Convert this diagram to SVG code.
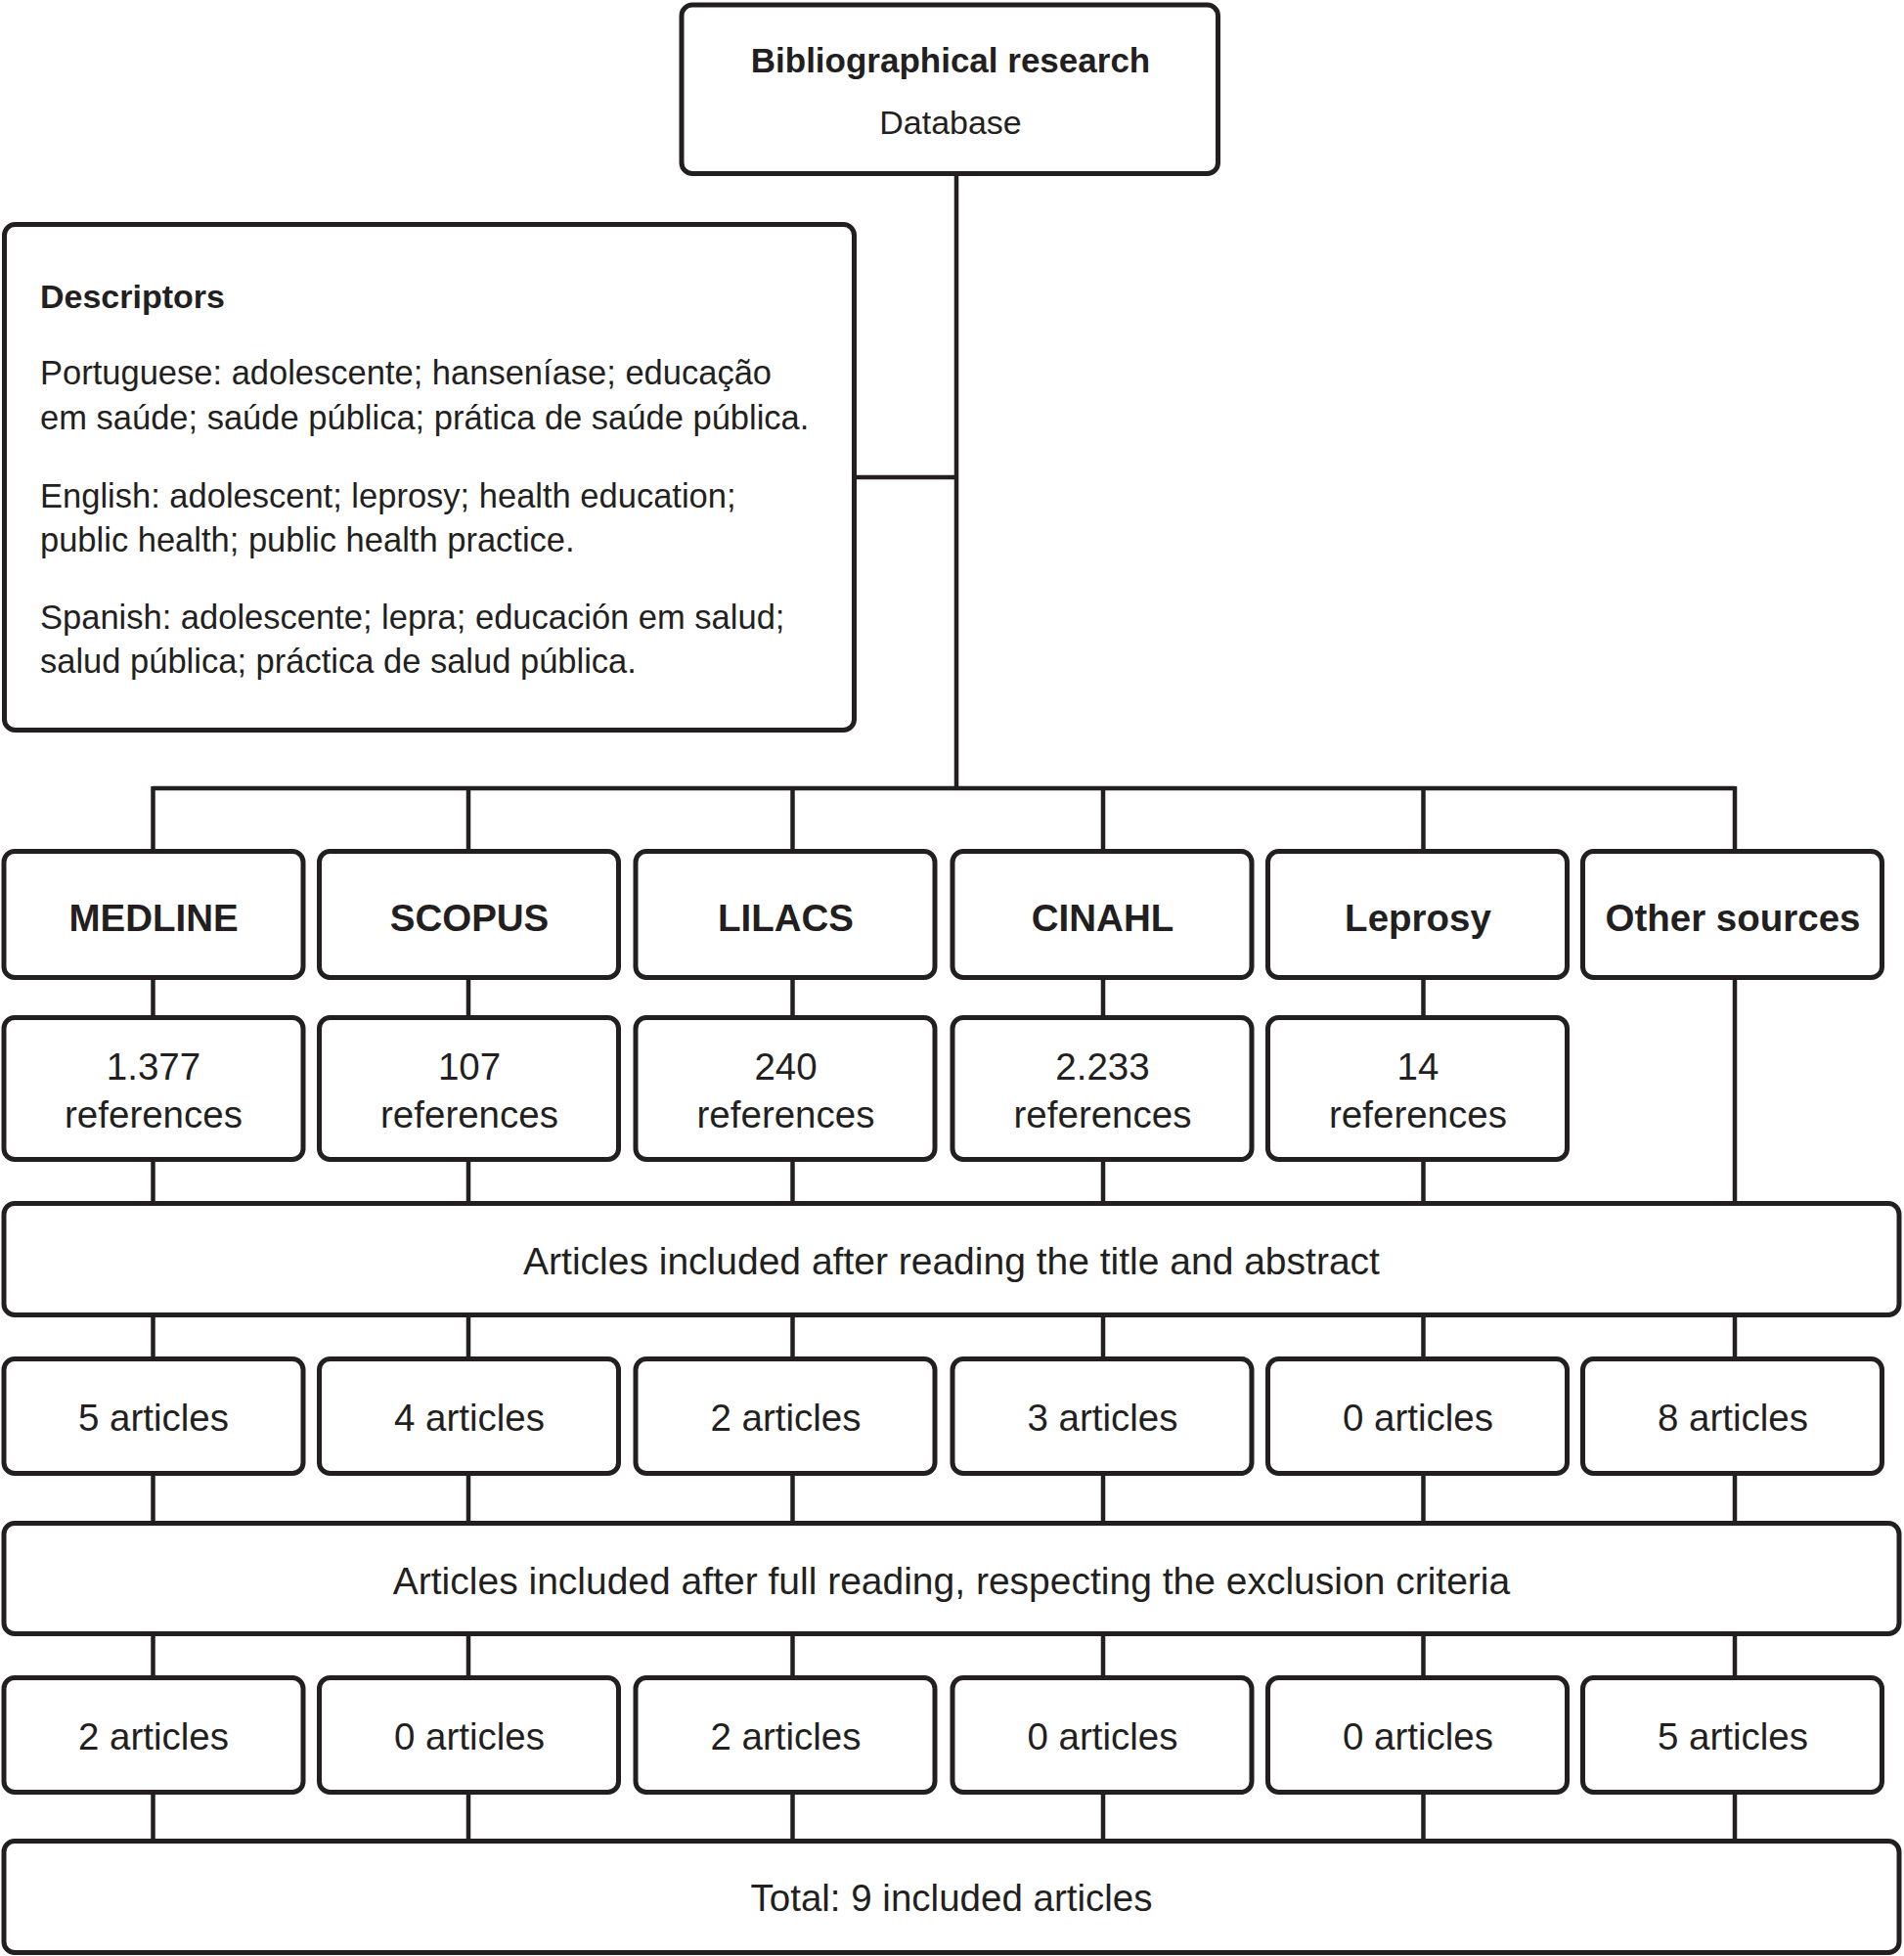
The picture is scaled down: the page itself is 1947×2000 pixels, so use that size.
<svg xmlns="http://www.w3.org/2000/svg" width="1947" height="2000" viewBox="0 0 1947 2000">
<style>
.box{fill:#fff;stroke:#231f20;stroke-width:5}
.con{stroke:#231f20;stroke-width:4.5;fill:none}
text{font-family:"Liberation Sans",Arial,sans-serif;fill:#231f20}
.b{font-weight:bold}
.c{text-anchor:middle}
.hd{font-size:38.5px}
.t{font-size:38.5px}
.w{font-size:39px}
.d{font-size:34.5px}
</style>
<rect width="1947" height="2000" fill="#fff"/>
<g id="connectors">
<line class="con" x1="978" y1="178" x2="978" y2="806"/>
<line class="con" x1="872" y1="488" x2="978" y2="488"/>
<line class="con" x1="156.5" y1="806" x2="1774" y2="806"/>
<line class="con" x1="156.5" y1="804" x2="156.5" y2="1884"/>
<line class="con" x1="479" y1="804" x2="479" y2="1884"/>
<line class="con" x1="810.5" y1="804" x2="810.5" y2="1884"/>
<line class="con" x1="1128" y1="804" x2="1128" y2="1884"/>
<line class="con" x1="1455.5" y1="804" x2="1455.5" y2="1884"/>
<line class="con" x1="1774" y1="804" x2="1774" y2="1884"/>
</g>
<g id="top">
<rect class="box" x="697" y="5" width="548.5" height="172.5" rx="11"/>
<text class="b c" x="972" y="74" font-size="35">Bibliographical research</text>
<text class="c" x="972" y="137" font-size="34">Database</text>
</g>
<g id="descriptors">
<rect class="box" x="4.5" y="229.5" width="869" height="517" rx="11"/>
<text class="b" x="41" y="315" font-size="34">Descriptors</text>
<text class="d" x="41" y="393">Portuguese: adolescente; hanseníase; educação</text>
<text class="d" x="41" y="439">em saúde; saúde pública; prática de saúde pública.</text>
<text class="d" x="41" y="519">English: adolescent; leprosy; health education;</text>
<text class="d" x="41" y="564">public health; public health practice.</text>
<text class="d" x="41" y="643">Spanish: adolescente; lepra; educación em salud;</text>
<text class="d" x="41" y="688">salud pública; práctica de salud pública.</text>
</g>
<g id="db-medline"><rect class="box" x="4" y="870.5" width="306" height="129" rx="11"/><text class="b c hd" x="157" y="952">MEDLINE</text></g>
<g id="db-scopus"><rect class="box" x="326.5" y="870.5" width="306" height="129" rx="11"/><text class="b c hd" x="480" y="952">SCOPUS</text></g>
<g id="db-lilacs"><rect class="box" x="650" y="870.5" width="306" height="129" rx="11"/><text class="b c hd" x="803.5" y="952">LILACS</text></g>
<g id="db-cinahl"><rect class="box" x="974" y="870.5" width="306" height="129" rx="11"/><text class="b c hd" x="1127.5" y="952">CINAHL</text></g>
<g id="db-leprosy"><rect class="box" x="1296.5" y="870.5" width="306" height="129" rx="11"/><text class="b c hd" x="1450" y="952">Leprosy</text></g>
<g id="db-other"><rect class="box" x="1618.5" y="870.5" width="306" height="129" rx="11"/><text class="b c hd" x="1772" y="952">Other sources</text></g>
<g id="ref-medline"><rect class="box" x="4" y="1040.5" width="306" height="145" rx="11"/><text class="c t" x="157" y="1104">1.377</text><text class="c t" x="157" y="1153">references</text></g>
<g id="ref-scopus"><rect class="box" x="326.5" y="1040.5" width="306" height="145" rx="11"/><text class="c t" x="480" y="1104">107</text><text class="c t" x="480" y="1153">references</text></g>
<g id="ref-lilacs"><rect class="box" x="650" y="1040.5" width="306" height="145" rx="11"/><text class="c t" x="803.5" y="1104">240</text><text class="c t" x="803.5" y="1153">references</text></g>
<g id="ref-cinahl"><rect class="box" x="974" y="1040.5" width="306" height="145" rx="11"/><text class="c t" x="1127.5" y="1104">2.233</text><text class="c t" x="1127.5" y="1153">references</text></g>
<g id="ref-leprosy"><rect class="box" x="1296.5" y="1040.5" width="306" height="145" rx="11"/><text class="c t" x="1450" y="1104">14</text><text class="c t" x="1450" y="1153">references</text></g>
<g id="screen-title"><rect class="box" x="4" y="1230.5" width="1938" height="114" rx="11"/><text class="c w" x="973" y="1303">Articles included after reading the title and abstract</text></g>
<g id="s1-medline"><rect class="box" x="4" y="1389.5" width="306" height="117" rx="11"/><text class="c t" x="157" y="1463">5 articles</text></g>
<g id="s1-scopus"><rect class="box" x="326.5" y="1389.5" width="306" height="117" rx="11"/><text class="c t" x="480" y="1463">4 articles</text></g>
<g id="s1-lilacs"><rect class="box" x="650" y="1389.5" width="306" height="117" rx="11"/><text class="c t" x="803.5" y="1463">2 articles</text></g>
<g id="s1-cinahl"><rect class="box" x="974" y="1389.5" width="306" height="117" rx="11"/><text class="c t" x="1127.5" y="1463">3 articles</text></g>
<g id="s1-leprosy"><rect class="box" x="1296.5" y="1389.5" width="306" height="117" rx="11"/><text class="c t" x="1450" y="1463">0 articles</text></g>
<g id="s1-other"><rect class="box" x="1618.5" y="1389.5" width="306" height="117" rx="11"/><text class="c t" x="1772" y="1463">8 articles</text></g>
<g id="screen-full"><rect class="box" x="4" y="1557.5" width="1938" height="113" rx="11"/><text class="c w" x="973" y="1630">Articles included after full reading, respecting the exclusion criteria</text></g>
<g id="s2-medline"><rect class="box" x="4" y="1715.5" width="306" height="117" rx="11"/><text class="c t" x="157" y="1789">2 articles</text></g>
<g id="s2-scopus"><rect class="box" x="326.5" y="1715.5" width="306" height="117" rx="11"/><text class="c t" x="480" y="1789">0 articles</text></g>
<g id="s2-lilacs"><rect class="box" x="650" y="1715.5" width="306" height="117" rx="11"/><text class="c t" x="803.5" y="1789">2 articles</text></g>
<g id="s2-cinahl"><rect class="box" x="974" y="1715.5" width="306" height="117" rx="11"/><text class="c t" x="1127.5" y="1789">0 articles</text></g>
<g id="s2-leprosy"><rect class="box" x="1296.5" y="1715.5" width="306" height="117" rx="11"/><text class="c t" x="1450" y="1789">0 articles</text></g>
<g id="s2-other"><rect class="box" x="1618.5" y="1715.5" width="306" height="117" rx="11"/><text class="c t" x="1772" y="1789">5 articles</text></g>
<g id="total"><rect class="box" x="4" y="1882.5" width="1938" height="114" rx="11"/><text class="c t" x="973" y="1954">Total: 9 included articles</text></g>
</svg>
